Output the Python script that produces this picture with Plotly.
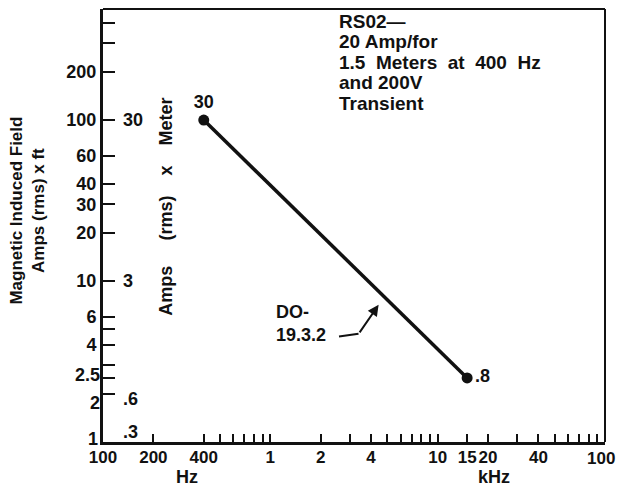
import math
import plotly.graph_objects as go

# ---- data ----
freq_hz = [400, 15000]          # frequency of the two end points (Hz)
field_amp_ft = [100, 2.5]       # Magnetic induced field, Amps (rms) x ft
point_labels = ["30", ".8"]     # Amps (rms) x Meter at the end points

x_tickvals = [100, 200, 400, 500, 600, 700, 800, 900, 1000,
              2000, 3000, 4000, 5000, 6000, 7000, 8000, 9000, 10000,
              15000, 20000, 30000, 40000, 50000, 60000, 70000, 80000, 90000, 100000]
x_ticktext = ["100", "200", "400", "", "", "", "", "", "1",
              "2", "", "4", "", "", "", "", "", "10",
              "15", "20", "", "40", "", "", "", "", "", ""]
x_last_label = "100"            # drawn at the right end of the axis

y_tickvals = [1, 2, 2.5, 3, 4, 5, 6, 10, 20, 30, 40, 60, 100, 200, 300, 400]
y_ticktext = ["", "", "", "", "4", "", "6", "10", "20", "30", "40", "60", "100", "200", "", ""]
# crowded labels drawn separately with a small offset
crowded_vals = [2.5, 2, 1]
crowded_text = ["2.5", "2", "1"]

meter_vals = ["30", "3", ".6", ".3"]      # secondary (Amps x Meter) labels
meter_at_ft = [100, 10, 2, 1]             # corresponding Amps x ft positions

nb = "\u00a0"
title_lines = ["RS02—", "20 Amp/for",
               f"1.5{nb*2}Meters{nb*2}at{nb*2}400{nb*2}Hz", "and 200V", "Transient"]

FONT = "Liberation Sans, Arial, sans-serif"
BLACK = "#111111"
def f(size):
    return dict(family=FONT, size=size, color=BLACK, weight="bold")

fig = go.Figure()
fig.add_trace(go.Scatter(
    x=freq_hz, y=field_amp_ft, mode="lines+markers+text",
    line=dict(color=BLACK, width=3.5),
    marker=dict(color=BLACK, size=11),
    text=point_labels, textposition=["top center", "middle right"],
    textfont=f(18),
    hoverinfo="skip", showlegend=False,
))

ann = []
# secondary scale labels
shifts = [0, 0, -5, 10]
for v, at, s in zip(meter_vals, meter_at_ft, shifts):
    ann.append(dict(x=0.036, xref="paper", y=math.log10(at), yref="y",
                    text=v, showarrow=False, xanchor="left", yanchor="middle",
                    yshift=s, font=f(18)))
# crowded primary tick labels
for v, t, s in zip(crowded_vals, crowded_text, [3, -9, 3]):
    ann.append(dict(x=0, xref="paper", y=math.log10(v), yref="y", text=t,
                    showarrow=False, xanchor="right", yanchor="middle",
                    xshift=-3 if t == "1" else -1, yshift=s, font=f(18)))
# last x tick label, kept inside the page
ann.append(dict(x=1, xref="paper", y=0, yref="paper", text=x_last_label,
                showarrow=False, xanchor="right", yanchor="top", xshift=12, yshift=-5,
                font=f(17)))
# top-right text block
for i, line in enumerate(title_lines):
    ann.append(dict(x=0.466, xref="paper", y=0.972 - i * 0.0475, yref="paper", text=line,
                    showarrow=False, xanchor="left", yanchor="middle", font=f(19)))
# DO-19.3.2 label
ann.append(dict(x=3.02, xref="x", y=0.735, yref="y", text="DO-<br>19.3.2",
                showarrow=False, xanchor="left", yanchor="middle", align="left",
                font=f(18)))
# leader: short horizontal stroke then arrow to the line
ann.append(dict(x=3.527, xref="x", y=0.673, yref="y", text="", showarrow=True,
                arrowhead=0, arrowwidth=2, arrowcolor=BLACK, ax=-21, ay=3, standoff=0))
ann.append(dict(x=3.647, xref="x", y=0.852, yref="y", text="", showarrow=True,
                arrowhead=2, arrowsize=1.1, arrowwidth=2, arrowcolor=BLACK,
                ax=-20, ay=29, standoff=0))
# axis titles
ann.append(dict(x=-0.151, xref="paper", y=0.535, yref="paper",
                text="Magnetic Induced Field<br>Amps (rms) x ft", textangle=-90,
                xanchor="center", yanchor="middle",
                showarrow=False, font=f(17)))
ann.append(dict(x=0.125, xref="paper", y=0.543, yref="paper",
                text=f"Amps{nb*5}(rms){nb*4}x{nb*4}Meter", textangle=-90,
                xanchor="center", yanchor="middle",
                showarrow=False, font=f(18)))
ann.append(dict(x=2.503, xref="x", y=-0.081, yref="paper", text="Hz",
                xanchor="center", yanchor="middle", showarrow=False, font=f(18)))
ann.append(dict(x=4.335, xref="x", y=-0.081, yref="paper", text="kHz",
                xanchor="center", yanchor="middle", showarrow=False, font=f(18)))

fig.update_layout(
    width=624, height=498,
    margin=dict(l=95, r=27, t=1, b=64),
    paper_bgcolor="white", plot_bgcolor="white",
    annotations=ann,
    shapes=[
        dict(type="line", xref="paper", yref="paper", x0=0, x1=1, y0=1, y1=1,
             line=dict(color=BLACK, width=2)),
        dict(type="line", xref="paper", yref="paper", x0=1, x1=1, y0=0, y1=1,
             line=dict(color=BLACK, width=2)),
    ],
)
fig.update_xaxes(type="log", range=[1.9999, 5.0001], tickmode="array",
                 tickvals=x_tickvals, ticktext=x_ticktext, tickangle=0,
                 ticks="inside", ticklen=8, tickwidth=2, tickcolor=BLACK,
                 showline=True, linewidth=3, linecolor=BLACK,
                 showgrid=False, zeroline=False, ticklabelstandoff=-2,
                 tickfont=f(17))
fig.update_yaxes(type="log", range=[-0.0001, 2.69], tickmode="array",
                 tickvals=y_tickvals, ticktext=y_ticktext,
                 ticks="inside", ticklen=12, tickwidth=2, tickcolor=BLACK,
                 showline=True, linewidth=3, linecolor=BLACK,
                 showgrid=False, zeroline=False, ticklabelstandoff=0,
                 tickfont=f(18))

fig.write_html("out.html")
